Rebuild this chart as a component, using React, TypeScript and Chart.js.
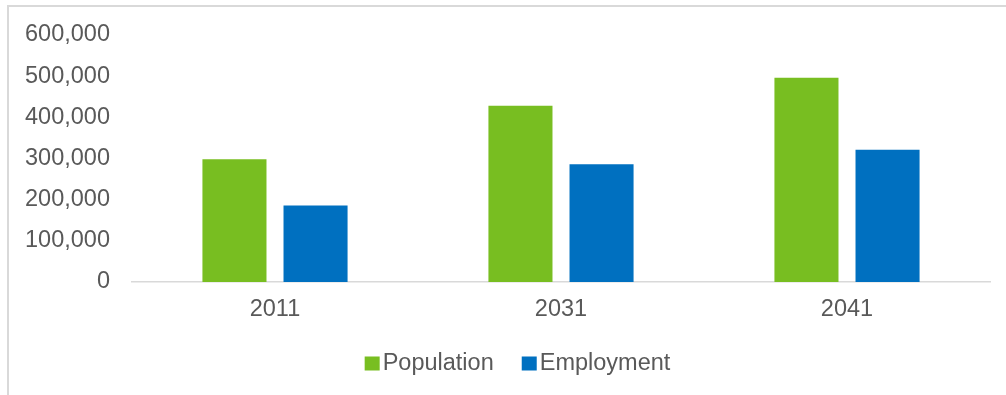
import React, { useEffect, useRef } from "react";
import { Chart, registerables } from "chart.js";

Chart.register(...registerables);

const categories = ["2011", "2031", "2041"];
const populationValues = [298000, 428000, 496000];
const employmentValues = [186000, 286000, 321000];
const seriesNames = ["Population", "Employment"];
const seriesColors = ["#78BE21", "#0070C0"];
const yTicks = [0, 100000, 200000, 300000, 400000, 500000, 600000];

const FONT = "'Liberation Sans', Arial, sans-serif";
const FONT_SIZE = 23.5;
const TEXT_COLOR = "#595959";

const legendPlugin = {
  id: "customLegend",
  afterDraw(chart: any) {
    const ctx = chart.ctx;
    ctx.save();
    ctx.font = `${FONT_SIZE}px ${FONT}`;
    ctx.textBaseline = "middle";
    ctx.textAlign = "left";
    const box = 15;
    const gap = 3;
    const itemGap = 28;
    const widths = seriesNames.map((n) => ctx.measureText(n).width);
    const total = widths.reduce((a, w) => a + box + gap + w, 0) + itemGap * (seriesNames.length - 1);
    let x = chart.width / 2 + 10 - total / 2;
    const y = 357;
    seriesNames.forEach((n, i) => {
      ctx.fillStyle = seriesColors[i];
      ctx.fillRect(x, y - box / 2, box, box - 1);
      ctx.fillStyle = TEXT_COLOR;
      ctx.fillText(n, x + box + gap, y);
      x += box + gap + widths[i] + itemGap;
    });
    ctx.restore();
  },
};

export default function App() {
  const ref = useRef<HTMLCanvasElement | null>(null);
  useEffect(() => {
    if (!ref.current) return;
    const chart = new Chart(ref.current, {
      type: "bar",
      data: {
        labels: categories,
        datasets: [
          {
            label: seriesNames[0],
            data: populationValues,
            backgroundColor: seriesColors[0],
            categoryPercentage: 0.567,
            barPercentage: 0.79,
          },
          {
            label: seriesNames[1],
            data: employmentValues,
            backgroundColor: seriesColors[1],
            categoryPercentage: 0.567,
            barPercentage: 0.79,
          },
        ],
      },
      options: {
        animation: false,
        responsive: false,
        maintainAspectRatio: false,
        layout: { padding: { left: 0, right: 16, top: 28, bottom: 73 } },
        plugins: {
          legend: { display: false },
          tooltip: { enabled: false },
        },
        scales: {
          x: {
            afterFit: (axis: any) => {
              axis.height = 40;
              axis.paddingLeft = 0;
              axis.paddingRight = 0;
            },
            grid: { display: false, drawTicks: false },
            border: { display: true, color: "#D9D9D9", width: 1.5 },
            ticks: {
              color: TEXT_COLOR,
              font: { family: FONT, size: FONT_SIZE },
              padding: 13,
            },
          },
          y: {
            min: 0,
            max: 600000,
            afterFit: (axis: any) => {
              axis.width = 123;
              axis.paddingTop = 0;
              axis.paddingBottom = 0;
            },
            afterBuildTicks: (axis: any) => {
              axis.ticks = yTicks.map((v) => ({ value: v }));
            },
            grid: { display: false, drawTicks: false },
            border: { display: false },
            ticks: {
              color: TEXT_COLOR,
              font: { family: FONT, size: FONT_SIZE },
              padding: 22,
              callback: (v: any) => Number(v).toLocaleString("en-US"),
            },
          },
        },
      },
      plugins: [legendPlugin],
    });
    return () => chart.destroy();
  }, []);

  return (
    <div
      style={{
        position: "fixed",
        left: 7,
        top: 5,
        width: 999,
        height: 390,
        borderLeft: "2px solid #D9D9D9",
        borderTop: "2px solid #D9D9D9",
        boxSizing: "border-box",
        background: "#fff",
      }}
    >
      <canvas ref={ref} width={997} height={388} style={{ display: "block" }} />
    </div>
  );
}
